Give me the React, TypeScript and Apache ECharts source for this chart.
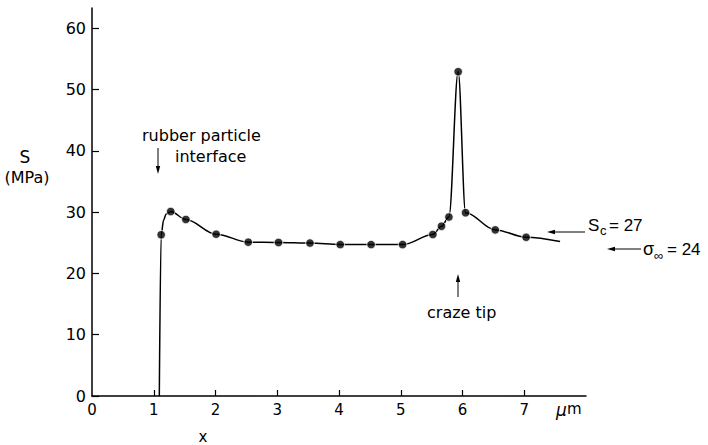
import React, { useEffect, useRef } from "react";
import * as echarts from "echarts";

const curveX = [1.09, 1.12, 1.16, 1.2, 1.275, 1.52, 2.01, 2.53, 3.02, 3.53, 4.02, 4.52, 5.03, 5.52, 5.66, 5.78, 5.93, 6.05, 6.53, 7.03, 7.58];
const curveY = [0, 26.3, 28.7, 29.7, 30.1, 28.8, 26.4, 25.1, 25.05, 24.95, 24.7, 24.7, 24.7, 26.35, 27.7, 29.2, 52.9, 29.9, 27.1, 25.9, 25.2];

const pointX = [1.12, 1.275, 1.52, 2.01, 2.53, 3.02, 3.53, 4.02, 4.52, 5.03, 5.52, 5.66, 5.78, 5.93, 6.05, 6.53, 7.03];
const pointY = [26.3, 30.1, 28.8, 26.4, 25.1, 25.05, 24.95, 24.7, 24.7, 24.7, 26.35, 27.7, 29.2, 52.9, 29.9, 27.1, 25.9];

const xTickLabels = [0, 1, 2, 3, 4, 5, 6, 7];
const xTicks = [1, 2, 3, 4, 5, 6, 7];
const yTickLabels = [0, 10, 20, 30, 40, 50, 60];

const FONT = "DejaVu Sans";
const HFONT = "Liberation Sans";

function arrow(x1: number, y1: number, x2: number, y2: number) {
  const dx = x2 - x1;
  const dy = y2 - y1;
  const len = Math.sqrt(dx * dx + dy * dy);
  const ux = dx / len;
  const uy = dy / len;
  const hl = 8;
  const hw = 2.2;
  const bx = x2 - ux * hl;
  const by = y2 - uy * hl;
  return [
    { type: "line", shape: { x1, y1, x2: bx, y2: by }, style: { stroke: "#000", lineWidth: 1 } },
    {
      type: "polygon",
      shape: { points: [[x2, y2], [bx - uy * hw, by + ux * hw], [bx + uy * hw, by - ux * hw]] },
      style: { fill: "#000" },
    },
  ];
}

function txt(text: string, x: number, y: number, size: number, family = FONT, align = "left", extra: any = {}) {
  return {
    type: "text",
    style: {
      text,
      x,
      y,
      fill: "#000",
      font: `${extra.italic ? "italic " : ""}${size}px "${family}"`,
      textAlign: align,
      textVerticalAlign: "middle",
    },
  };
}

export default function App() {
  const ref = useRef<HTMLDivElement>(null);
  useEffect(() => {
    if (!ref.current) return;
    const chart = echarts.init(ref.current, null, { renderer: "svg" });
    const curve = curveX.map((x, i) => [x, curveY[i]]);
    const pts = pointX.map((x, i) => [x, pointY[i]]);
    chart.setOption({
      animation: false,
      backgroundColor: "#fff",
      grid: { left: 92, right: 122, top: 8, bottom: 49, outerBoundsMode: "none" },
      xAxis: {
        type: "value",
        min: 0,
        max: 8,
        axisLine: { show: true, onZero: false, lineStyle: { color: "#000", width: 1.5 } },
        axisTick: { show: true, inside: true, length: 6, customValues: xTicks, lineStyle: { color: "#000", width: 1.2 } },
        axisLabel: { customValues: xTickLabels, color: "#000", fontFamily: FONT, fontSize: 15, margin: 6 },
        splitLine: { show: false },
      },
      yAxis: {
        type: "value",
        min: 0,
        max: 63.3,
        axisLine: { show: true, onZero: false, lineStyle: { color: "#000", width: 1.5 } },
        axisTick: { show: true, inside: true, length: 7, customValues: yTickLabels, lineStyle: { color: "#000", width: 1.2 } },
        axisLabel: { customValues: yTickLabels, color: "#000", fontFamily: FONT, fontSize: 16, margin: 6 },
        splitLine: { show: false },
      },
      series: [
        {
          type: "line",
          data: curve,
          smooth: 0.35,
          smoothMonotone: "x",
          showSymbol: false,
          symbol: "none",
          lineStyle: { color: "#000", width: 1.5 },
          z: 2,
        },
        {
          type: "scatter",
          data: pts,
          symbol: "circle",
          symbolSize: 8.5,
          itemStyle: { color: "#000", borderColor: "#fff", borderWidth: 1 },
          z: 3,
        },
      ],
      graphic: [
        txt("S", 25, 157, 17, FONT, "center"),
        txt("(MPa)", 27, 177, 16, FONT, "center"),
        txt("rubber particle", 142, 135, 16),
        txt("interface", 175, 156, 16),
        ...arrow(158, 148, 158, 174),
        txt("craze tip", 427, 312, 16),
        ...arrow(458, 297, 458, 274),
        ...arrow(585, 232, 547, 232),
        txt("S", 588, 225, 17, HFONT),
        txt("c", 600, 230, 13, HFONT),
        txt("= 27", 609, 225, 17, HFONT),
        ...arrow(641, 249, 607, 249),
        txt("σ", 643, 249, 18, HFONT),
        txt("∞", 654, 255, 13, HFONT),
        txt("= 24", 667, 249, 17, HFONT),
        txt("μ", 556, 410, 17, FONT, "left", { italic: true }),
        txt("m", 567, 409, 15, FONT),
        txt("x", 203, 437, 15, FONT, "center"),
      ],
    });
    return () => chart.dispose();
  }, []);
  return <div ref={ref} style={{ position: "absolute", left: 0, top: 0, width: 708, height: 445 }} />;
}
